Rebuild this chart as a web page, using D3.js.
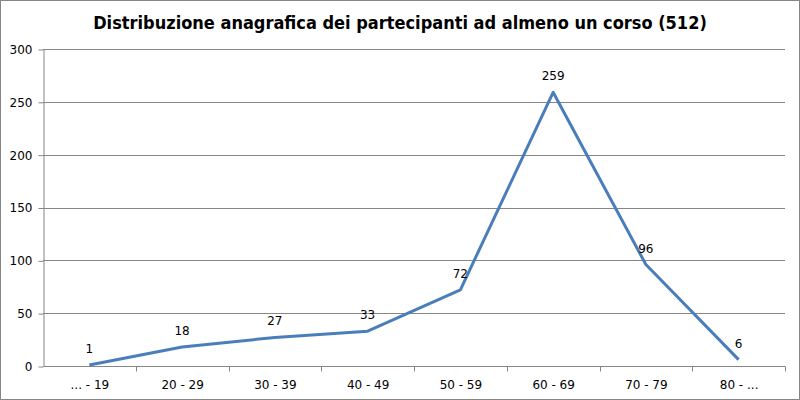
<!DOCTYPE html>
<head>
<meta charset="utf-8">
<style>
  body { margin: 0; background: #fff; }
  text { font-family: "DejaVu Sans", Verdana, sans-serif; fill: #000; }
</style>
</head>
<body>
  <svg width="800" height="400"></svg>

  <script src="https://d3js.org/d3.v7.min.js"></script>
  <script>
  const categories = ['... - 19', '20 - 29', '30 - 39', '40 - 49', '50 - 59', '60 - 69', '70 - 79', '80 - ...'];
  const values = [1, 18, 27, 33, 72, 259, 96, 6];
  const yTicks = [0, 50, 100, 150, 200, 250, 300];
  const title = 'Distribuzione anagrafica dei partecipanti ad almeno un corso (512)';

  const margin = { left: 43, right: 15, top: 49, bottom: 34 };
  const width = 800, height = 400;
  const svg = d3.select('svg');

  // chart border
  svg.append('rect')
    .attr('x', 0.5).attr('y', 0.5)
    .attr('width', width - 1).attr('height', height - 1)
    .attr('fill', '#fff').attr('stroke', '#868686');

  const x = d3.scaleBand()
    .domain(categories)
    .range([margin.left, width - margin.right]);
  const y = d3.scaleLinear()
    .domain([0, 300])
    .range([height - margin.bottom, margin.top]);

  // gridlines
  svg.append('g')
    .selectAll('line')
    .data(yTicks.filter(d => d > 0))
    .enter()
    .append('line')
    .attr('x1', margin.left).attr('x2', width - margin.right)
    .attr('y1', d => Math.round(y(d)) + 0.5).attr('y2', d => Math.round(y(d)) + 0.5)
    .attr('stroke', '#868686');

  // y axis
  const yAxis = svg.append('g')
    .attr('transform', `translate(${margin.left + 0.5},0.5)`)
    .call(d3.axisLeft(y).tickValues(yTicks).tickSize(5).tickPadding(6).tickSizeOuter(0));
  yAxis.selectAll('path, line').attr('stroke', '#868686');
  yAxis.selectAll('text').style('font-size', '12px').attr('fill', '#000');

  // x axis with ticks at category boundaries
  const xAxis = svg.append('g')
    .attr('transform', `translate(0.5,${Math.round(y(0)) + 0.5})`);
  xAxis.append('line')
    .attr('x1', margin.left).attr('x2', width - margin.right)
    .attr('stroke', '#868686');
  xAxis.selectAll('line.tick')
    .data(categories)
    .enter()
    .append('line')
    .attr('class', 'tick')
    .attr('x1', d => Math.round(x(d) + x.bandwidth())).attr('x2', d => Math.round(x(d) + x.bandwidth()))
    .attr('y1', 0).attr('y2', 5)
    .attr('stroke', '#868686');
  xAxis.selectAll('text')
    .data(categories)
    .enter()
    .append('text')
    .attr('x', d => x(d) + x.bandwidth() / 2)
    .attr('y', 22)
    .attr('text-anchor', 'middle')
    .style('font-size', '12px')
    .text(d => d);

  // line
  const line = d3.line()
    .x((d, i) => x(categories[i]) + x.bandwidth() / 2)
    .y(d => y(d));
  svg.append('path')
    .datum(values)
    .attr('d', line)
    .attr('fill', 'none')
    .attr('stroke', '#4a7ebb')
    .attr('stroke-width', 3)
    .attr('stroke-linejoin', 'round');

  // data labels
  svg.append('g')
    .selectAll('text')
    .data(values)
    .enter()
    .append('text')
    .attr('x', (d, i) => x(categories[i]) + x.bandwidth() / 2)
    .attr('y', d => y(d) - 12)
    .attr('text-anchor', 'middle')
    .style('font-size', '12px')
    .text(d => d);

  // title
  svg.append('text')
    .attr('x', width / 2)
    .attr('y', 29)
    .attr('text-anchor', 'middle')
    .style('font-family', '"DejaVu Sans Condensed", "DejaVu Sans", sans-serif')
    .style('font-stretch', 'condensed')
    .style('font-size', '18px')
    .style('font-weight', 'bold')
    .text(title);
  </script>
</body>
</html>
